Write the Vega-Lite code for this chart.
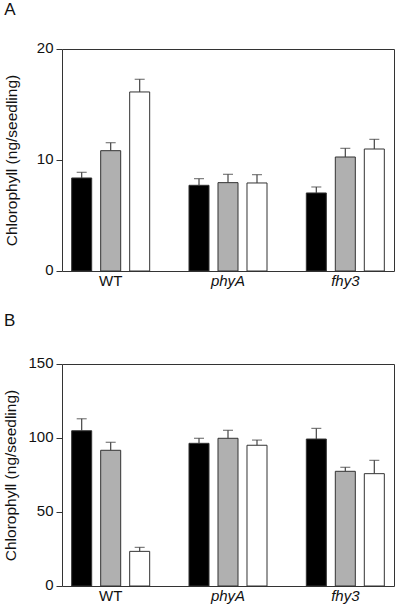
{
  "$schema": "https://vega.github.io/schema/vega-lite/v6.json",
  "padding": {"left": 3, "right": 5, "top": 0, "bottom": 2},
  "background": "white",
  "spacing": 22,
  "config": {
    "font": "Liberation Sans",
    "view": {"stroke": "#333", "strokeWidth": 1},
    "axis": {"grid": false, "domain": false, "labelFontSize": 15, "titleFontSize": 15.5, "titleFontWeight": "normal", "labelColor": "#111", "titleColor": "#111", "tickColor": "#333"},
    "title": {"fontSize": 17, "fontWeight": "normal", "anchor": "start", "frame": "bounds", "baseline": "alphabetic", "color": "#111"}
  },
  "datasets": {
    "a": [
      {"genotype": "WT", "condition": "1", "mean": 8.38, "upper": 8.89},
      {"genotype": "WT", "condition": "2", "mean": 10.84, "upper": 11.56},
      {"genotype": "WT", "condition": "3", "mean": 16.13, "upper": 17.27},
      {"genotype": "phyA", "condition": "1", "mean": 7.72, "upper": 8.32},
      {"genotype": "phyA", "condition": "2", "mean": 7.96, "upper": 8.71},
      {"genotype": "phyA", "condition": "3", "mean": 7.93, "upper": 8.68},
      {"genotype": "fhy3", "condition": "1", "mean": 7.03, "upper": 7.57},
      {"genotype": "fhy3", "condition": "2", "mean": 10.27, "upper": 11.05},
      {"genotype": "fhy3", "condition": "3", "mean": 10.99, "upper": 11.86}
    ],
    "b": [
      {"genotype": "WT", "condition": "1", "mean": 104.9, "upper": 113.0},
      {"genotype": "WT", "condition": "2", "mean": 91.7, "upper": 97.1},
      {"genotype": "WT", "condition": "3", "mean": 23.4, "upper": 26.1},
      {"genotype": "phyA", "condition": "1", "mean": 96.4, "upper": 99.8},
      {"genotype": "phyA", "condition": "2", "mean": 99.8, "upper": 105.2},
      {"genotype": "phyA", "condition": "3", "mean": 95.1, "upper": 98.6},
      {"genotype": "fhy3", "condition": "1", "mean": 99.3, "upper": 106.5},
      {"genotype": "fhy3", "condition": "2", "mean": 77.5, "upper": 80.2},
      {"genotype": "fhy3", "condition": "3", "mean": 75.9, "upper": 84.9}
    ]
  },
  "vconcat": [
    {
      "width": 332,
      "height": 222,
      "title": {"text": "A", "offset": 21},
      "data": {"name": "a"},
      "encoding": {
        "x": {"field": "genotype", "type": "nominal", "sort": ["WT", "phyA", "fhy3"],
          "scale": {"paddingInner": 0.17, "paddingOuter": 0},
          "axis": {"title": null, "labelAngle": 0, "ticks": false, "labelPadding": 2,
            "labelFontStyle": {"expr": "datum.value == 'WT' ? 'normal' : 'italic'"}}},
        "xOffset": {"field": "condition", "type": "nominal", "sort": ["1", "2", "3"],
          "scale": {"paddingInner": 0.31, "paddingOuter": 0.334}}
      },
      "layer": [
        {
          "mark": {"type": "bar", "stroke": "#333", "strokeWidth": 1},
          "encoding": {
            "y": {"field": "mean", "type": "quantitative",
              "scale": {"domain": [0, 20], "nice": false},
              "axis": {"title": "Chlorophyll (ng/seedling)", "values": [0, 10, 20], "tickSize": 6, "labelPadding": 3, "titlePadding": 17, "labelBaseline": "middle", "labelOffset": -2}},
            "fill": {"field": "condition", "type": "nominal", "legend": null,
              "scale": {"domain": ["1", "2", "3"], "range": ["#000000", "#b0b0b0", "#ffffff"]}}
          }
        },
        {
          "mark": {"type": "rule", "color": "#444", "strokeWidth": 1.2},
          "encoding": {"y": {"field": "mean", "type": "quantitative"}, "y2": {"field": "upper"}}
        },
        {
          "mark": {"type": "tick", "color": "#444", "thickness": 1.2, "size": 10, "orient": "horizontal"},
          "encoding": {"y": {"field": "upper", "type": "quantitative"}}
        }
      ]
    },
    {
      "width": 332,
      "height": 222,
      "title": {"text": "B", "offset": 25.5},
      "data": {"name": "b"},
      "encoding": {
        "x": {"field": "genotype", "type": "nominal", "sort": ["WT", "phyA", "fhy3"],
          "scale": {"paddingInner": 0.17, "paddingOuter": 0},
          "axis": {"title": null, "labelAngle": 0, "ticks": false, "labelPadding": 2,
            "labelFontStyle": {"expr": "datum.value == 'WT' ? 'normal' : 'italic'"}}},
        "xOffset": {"field": "condition", "type": "nominal", "sort": ["1", "2", "3"],
          "scale": {"paddingInner": 0.31, "paddingOuter": 0.334}}
      },
      "layer": [
        {
          "mark": {"type": "bar", "stroke": "#333", "strokeWidth": 1},
          "encoding": {
            "y": {"field": "mean", "type": "quantitative",
              "scale": {"domain": [0, 150], "nice": false},
              "axis": {"title": "Chlorophyll (ng/seedling)", "values": [0, 50, 100, 150], "tickSize": 6, "labelPadding": 3, "titlePadding": 9, "labelBaseline": "middle", "labelOffset": -2}},
            "fill": {"field": "condition", "type": "nominal", "legend": null,
              "scale": {"domain": ["1", "2", "3"], "range": ["#000000", "#b0b0b0", "#ffffff"]}}
          }
        },
        {
          "mark": {"type": "rule", "color": "#444", "strokeWidth": 1.2},
          "encoding": {"y": {"field": "mean", "type": "quantitative"}, "y2": {"field": "upper"}}
        },
        {
          "mark": {"type": "tick", "color": "#444", "thickness": 1.2, "size": 10, "orient": "horizontal"},
          "encoding": {"y": {"field": "upper", "type": "quantitative"}}
        }
      ]
    }
  ]
}
